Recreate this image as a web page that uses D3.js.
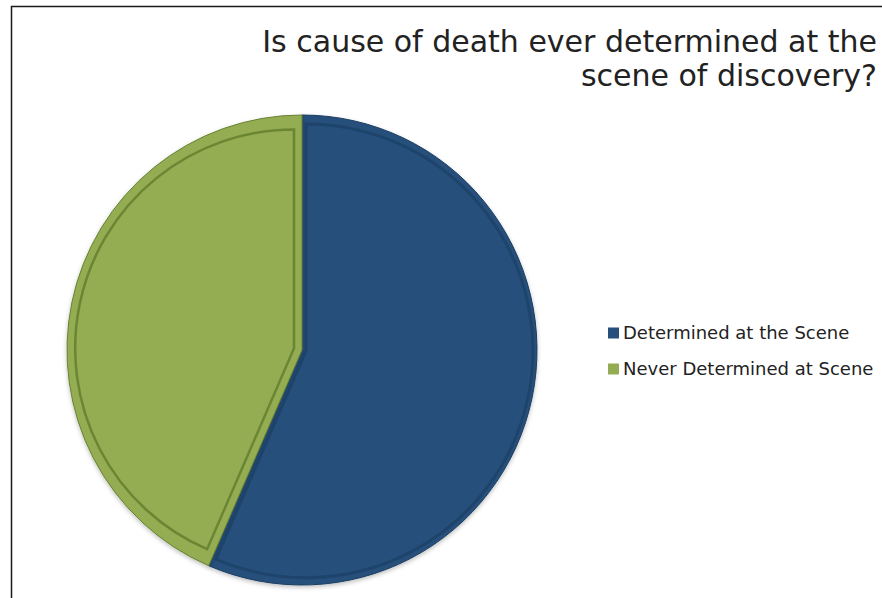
<!DOCTYPE html>
<html>
<head>
<meta charset="utf-8">
<script src="https://cdn.jsdelivr.net/npm/d3@7/dist/d3.min.js"></script>
<style>
  body { margin: 0; background: #fff; }
  svg { display: block; }
  text { font-family: "DejaVu Sans", Verdana, sans-serif; }
</style>
</head>
<body>
<script>
// pie data
var categories = ["Determined at the Scene", "Never Determined at Scene"];
var values = [56.5, 43.5];
var colors = ["#26507b", "#94ad53"];
var edgeColors = ["#1b3d60", "#66822f"];
var titleLines = ["Is cause of death ever determined at the", "scene of discovery?"];

var w = 882, h = 598;
var cx = 302, cy = 350, r = 235;

var svg = d3.select("body").append("svg")
  .attr("width", w)
  .attr("height", h);

// frame (only top and left edges show)
svg.append("path")
  .attr("d", "M11.5," + h + "V6.5H" + w)
  .attr("fill", "none")
  .attr("stroke", "#1a1a1a")
  .attr("stroke-width", 1.5);

// title
svg.selectAll(".title")
  .data(titleLines)
  .enter().append("text")
  .attr("class", "title")
  .attr("x", 877)
  .attr("y", function(d, i) { return 52 + i * 34; })
  .attr("text-anchor", "end")
  .attr("font-size", "30px")
  .attr("fill", "#222")
  .text(function(d) { return d; });

var pie = d3.pie().sort(null).value(function(d) { return d; });
var arcs = pie(values);

var arc = d3.arc().innerRadius(0).outerRadius(r);

var defs = svg.append("defs");
var f = defs.append("filter").attr("id", "shadow")
  .attr("x", "-10%").attr("y", "-10%").attr("width", "120%").attr("height", "120%");
f.append("feDropShadow").attr("dx", 0).attr("dy", 2).attr("stdDeviation", 2)
  .attr("flood-color", "#000").attr("flood-opacity", 0.25);

var g = svg.append("g")
  .attr("transform", "translate(" + cx + "," + cy + ")");

g.selectAll(".slice")
  .data(arcs)
  .enter().append("path")
  .attr("class", "slice")
  .attr("d", arc)
  .attr("fill", function(d, i) { return colors[i]; })
  .attr("stroke", function(d, i) { return edgeColors[i]; })
  .attr("stroke-width", 1)
  .attr("filter", "url(#shadow)");

// inner bevel line of each slice
var insets = [4, 8];
g.selectAll(".bevel")
  .data(arcs)
  .enter().append("path")
  .attr("class", "bevel")
  .attr("d", function(d, i) {
    var half = (d.endAngle - d.startAngle) / 2;
    var off = insets[i] / Math.sin(half);
    return d3.arc().innerRadius(0).outerRadius(r - off - insets[i])(d);
  })
  .attr("transform", function(d, i) {
    var half = (d.endAngle - d.startAngle) / 2;
    var off = insets[i] / Math.sin(half);
    var mid = (d.startAngle + d.endAngle) / 2;
    return "translate(" + (Math.sin(mid) * off) + "," + (-Math.cos(mid) * off) + ")";
  })
  .attr("fill", "none")
  .attr("stroke", function(d, i) { return edgeColors[i]; })
  .attr("stroke-width", function(d, i) { return i === 0 ? 3 : 2.5; })
  .attr("stroke-opacity", function(d, i) { return i === 0 ? 0.6 : 0.9; });

// legend
var legend = svg.selectAll(".legend")
  .data(categories)
  .enter().append("g")
  .attr("class", "legend")
  .attr("transform", function(d, i) { return "translate(608," + (333 + i * 36) + ")"; });

legend.append("rect")
  .attr("x", 0)
  .attr("y", -5.5)
  .attr("width", 11)
  .attr("height", 11)
  .attr("fill", function(d, i) { return colors[i]; });

legend.append("text")
  .attr("x", 15)
  .attr("y", 0)
  .attr("dy", "0.35em")
  .attr("font-size", "18px")
  .attr("fill", "#222")
  .text(function(d) { return d; });
</script>
</body>
</html>
